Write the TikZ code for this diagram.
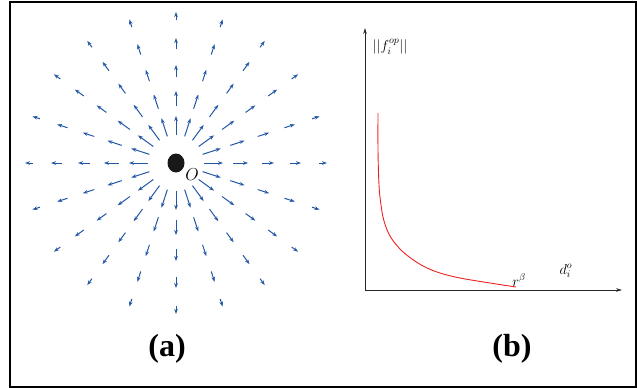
\documentclass[tikz,border=0pt]{standalone}
\usepackage{fontspec}
\setmainfont{Liberation Serif}
\usetikzlibrary{arrows.meta,calc,shapes.geometric}
\definecolor{qblue}{HTML}{2457A6}
\definecolor{curvered}{HTML}{EE2222}
\begin{document}
\begin{tikzpicture}[x=1pt,y=-1pt,
  quiv/.style={qblue, line width=1pt, -{Stealth[length=5pt,width=3.6pt]}},
  axisline/.style={line width=0.9pt, black!85, -{Stealth[length=6pt,width=3.6pt]}},
  mlabel/.style={inner sep=0pt, font=\fontsize{14}{16}\selectfont},
  panel/.style={inner sep=0pt, font=\fontsize{32}{36}\selectfont\bfseries}]
\useasboundingbox (0,0) rectangle (637,388);
\draw[line width=2pt] (10,2) rectangle (636,387);
% panel (a)
\coordinate (O) at (176,163);
\foreach \a in {0,18,...,342}{
  \foreach \rs/\len in {28/19,57/15,86/12,114/11,143/8}{
    \draw[quiv] ($(O)+(\a:\rs)$) -- ($(O)+(\a:\rs+\len)$);
  }
}
\node[ellipse, fill=black!90, minimum width=17pt, minimum height=19pt, inner sep=0pt] (dot) at (O) {};
\node[mlabel, font=\fontsize{16}{18}\selectfont] (olab) at (192,175) {$O$};
\node[panel] (la) at (167,349) {(a)};
% panel (b)
\coordinate (orig) at (365,290);
\coordinate (ytip) at (365,28);
\coordinate (xtip) at (622,290);
\draw[axisline] (orig) -- (ytip);
\draw[axisline] (orig) -- (xtip);
\draw[curvered, line width=0.9pt] plot[smooth, tension=0.6] coordinates {
  (378,113) (378,150) (379,185) (381,205) (384,221) (390,236) (400,249)
  (412,259) (425,267) (440,273) (460,278) (490,283) (516,287)};
\node[mlabel] (fl) at (390,47) {$||f_i^{op}||$};
\node[mlabel] (rb) at (519,280) {$r^{\beta}$};
\node[mlabel] (dl) at (566,271) {$d^{o}_{i}$};
\node[panel] (lb) at (512,349) {(b)};
\end{tikzpicture}
\end{document}
